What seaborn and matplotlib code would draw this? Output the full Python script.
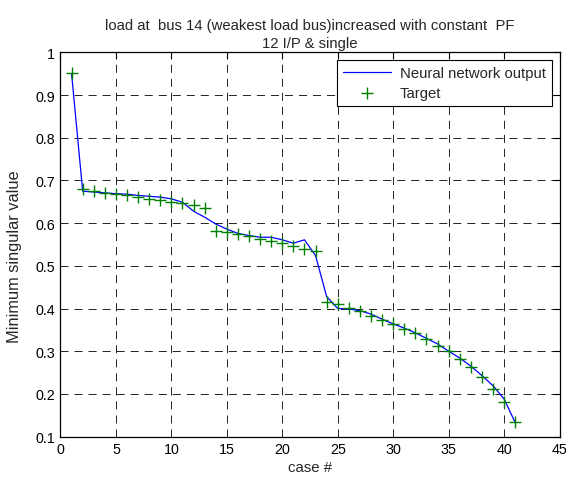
import numpy as np
import pandas as pd
import matplotlib
matplotlib.use('Agg')
import matplotlib.pyplot as plt
import seaborn as sns
from matplotlib.ticker import FuncFormatter

# case numbers 1..41
cases = list(range(1, 42))

# neural network output (blue line)
nn_output = [0.950, 0.675, 0.673, 0.671, 0.669, 0.668, 0.665, 0.663, 0.661, 0.657,
             0.649, 0.628, 0.614, 0.598, 0.586, 0.576, 0.571, 0.567, 0.567, 0.561,
             0.553, 0.561, 0.524, 0.428, 0.400, 0.399, 0.395, 0.387, 0.375, 0.364,
             0.354, 0.343, 0.330, 0.317, 0.300, 0.284, 0.265, 0.243, 0.219, 0.188,
             0.133]

# target values (green crosses)
target = [0.951, 0.679, 0.676, 0.671, 0.668, 0.666, 0.661, 0.657, 0.654, 0.650,
          0.647, 0.643, 0.636, 0.582, 0.580, 0.575, 0.569, 0.563, 0.559, 0.554,
          0.546, 0.539, 0.535, 0.416, 0.411, 0.402, 0.395, 0.383, 0.374, 0.364,
          0.352, 0.343, 0.329, 0.313, 0.300, 0.282, 0.264, 0.240, 0.211, 0.180,
          0.133]

x_ticks = [0, 5, 10, 15, 20, 25, 30, 35, 40, 45]
y_ticks = [0.1, 0.2, 0.3, 0.4, 0.5, 0.6, 0.7, 0.8, 0.9, 1.0]

title_text = ('load at  bus 14 (weakest load bus)increased with constant  PF\n'
              '12 I/P & single')


def main():
    sns.set_style('white')
    plt.rcParams['font.family'] = ['Liberation Sans', 'DejaVu Sans']
    plt.rcParams['lines.scale_dashes'] = False

    df = pd.DataFrame({'case': cases, 'output': nn_output, 'target': target})

    fig = plt.figure(figsize=(5.67, 4.81), dpi=100)
    ax = fig.add_axes([0.1067, 0.0904, 0.8801, 0.7984])

    sns.lineplot(data=df, x='case', y='output', ax=ax, color='blue',
                 linewidth=0.9, label='Neural network output')
    sns.scatterplot(data=df, x='case', y='target', ax=ax, marker='+',
                    color='#008000', s=70, linewidth=1.0, label='Target',
                    zorder=3)

    ax.set_xlim(0, 45)
    ax.set_ylim(0.1, 1.0)
    ax.set_xticks(x_ticks)
    ax.set_yticks(y_ticks)
    ax.yaxis.set_major_formatter(FuncFormatter(lambda v, p: '%g' % round(v, 2)))
    ax.tick_params(direction='in', length=5, width=0.8, top=True, right=True,
                   labelsize=10.3, colors='black', pad=4)
    for s in ax.spines.values():
        s.set_color('black')
        s.set_linewidth(0.9)
    ax.grid(True, color='black', linewidth=0.6, linestyle=(0, (5.8, 4.3)))

    ax.set_xlabel('case #', fontsize=10.8, labelpad=3)
    ax.set_ylabel('Minimum singular value', fontsize=11.8, labelpad=4)
    ax.yaxis.set_label_coords(-0.078, 0.47)
    ax.set_title(title_text, fontsize=10.7, pad=4, linespacing=1.35)

    leg = ax.legend(loc='upper right', fontsize=10.7, fancybox=False,
                    edgecolor='black', framealpha=1, borderaxespad=0.5,
                    handlelength=3.2, handletextpad=0.6, borderpad=0.42,
                    labelspacing=0.4)
    leg.get_frame().set_linewidth(0.8)

    fig.savefig('out.png', dpi=100, facecolor='white')


if __name__ == '__main__':
    main()
